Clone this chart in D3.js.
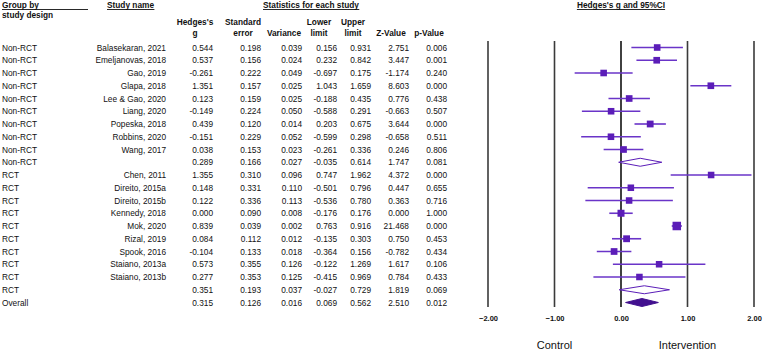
<!DOCTYPE html>
<html>
<head>
<meta charset="utf-8">
<script src="https://cdn.jsdelivr.net/npm/d3@7"></script>
<style>
  body { margin: 0; background: #fff; }
  svg { display: block; font-family: "Liberation Sans", Arial, sans-serif; }
</style>
</head>
<body>
<div id="chart"></div>
<script>
// rows of the forest plot (summary rows have kind "sub" or "all")
const groups = ["Non-RCT","Non-RCT","Non-RCT","Non-RCT","Non-RCT","Non-RCT","Non-RCT","Non-RCT","Non-RCT","Non-RCT",
  "RCT","RCT","RCT","RCT","RCT","RCT","RCT","RCT","RCT","RCT","Overall"];
const studies = ["Balasekaran, 2021","Emeljanovas, 2018","Gao, 2019","Glapa, 2018","Lee & Gao, 2020","Liang, 2020",
  "Popeska, 2018","Robbins, 2020","Wang, 2017","",
  "Chen, 2011","Direito, 2015a","Direito, 2015b","Kennedy, 2018","Mok, 2020","Rizal, 2019","Spook, 2016",
  "Staiano, 2013a","Staiano, 2013b","",""];
const kinds = ["study","study","study","study","study","study","study","study","study","sub",
  "study","study","study","study","study","study","study","study","study","sub","all"];
const hedgesG = [0.544,0.537,-0.261,1.351,0.123,-0.149,0.439,-0.151,0.038,0.289,
  1.355,0.148,0.122,0.000,0.839,0.084,-0.104,0.573,0.277,0.351,0.315];
const stdErr = [0.198,0.156,0.222,0.157,0.159,0.224,0.120,0.229,0.153,0.166,
  0.310,0.331,0.336,0.090,0.039,0.112,0.133,0.355,0.353,0.193,0.126];
const variance = [0.039,0.024,0.049,0.025,0.025,0.050,0.014,0.052,0.023,0.027,
  0.096,0.110,0.113,0.008,0.002,0.012,0.018,0.126,0.125,0.037,0.016];
const lower = [0.156,0.232,-0.697,1.043,-0.188,-0.588,0.203,-0.599,-0.261,-0.035,
  0.747,-0.501,-0.536,-0.176,0.763,-0.135,-0.364,-0.122,-0.415,-0.027,0.069];
const upper = [0.931,0.842,0.175,1.659,0.435,0.291,0.675,0.298,0.336,0.614,
  1.962,0.796,0.780,0.176,0.916,0.303,0.156,1.269,0.969,0.729,0.562];
const zValue = [2.751,3.447,-1.174,8.603,0.776,-0.663,3.644,-0.658,0.246,1.747,
  4.372,0.447,0.363,0.000,21.468,0.750,-0.782,1.617,0.784,1.819,2.510];
const pValue = [0.006,0.001,0.240,0.000,0.438,0.507,0.000,0.511,0.806,0.081,
  0.000,0.655,0.716,1.000,0.000,0.453,0.434,0.106,0.433,0.069,0.012];
const ticks = [-2, -1, 0, 1, 2];

const width = 764, height = 350;
const fontSize = 8.3;
const markColor = "#5b1db8", lineColor = "#6a34c8", overallColor = "#42108f";

const svg = d3.select("#chart").append("svg")
  .attr("width", width).attr("height", height)
  .attr("viewBox", [0, 0, width, height]);

const I = d3.range(groups.length);
const y = d3.scalePoint(I, [47.5, 302.5]);
const x = d3.scaleLinear([-2, 2], [488, 754]);
const size = d3.scaleLinear([0, 500], [6.5, 8.5]).clamp(true);

// headers
function header(txt, xp, yp, anchor, underline) {
  const t = svg.append("text").attr("x", xp).attr("y", yp)
    .attr("font-size", fontSize).attr("font-weight", 700)
    .attr("text-anchor", anchor).attr("fill", "#111").text(txt);
  if (underline) {
    const b = t.node().getBBox();
    svg.append("line").attr("x1", underline[0] ?? b.x).attr("x2", underline[1] ?? b.x + b.width)
      .attr("y1", yp + 1.5).attr("y2", yp + 1.5).attr("stroke", "#111").attr("stroke-width", 0.9);
  }
}
header("Group by", 2, 8, "start", [2, 88]);
header("study design", 2, 18, "start");
header("Study name", 107, 8, "start", []);
header("Statistics for each study", 263, 8, "start", []);
header("Hedges's g and 95%CI", 621, 8, "middle", []);

// numeric columns: right edge of the numbers, two header lines
const cols = [
  {x: 213, h: ["Hedges's", "g"], v: hedgesG},
  {x: 261, h: ["Standard", "error"], v: stdErr},
  {x: 302, h: ["", "Variance"], v: variance},
  {x: 337, h: ["Lower", "limit"], v: lower},
  {x: 371, h: ["Upper", "limit"], v: upper},
  {x: 409, h: ["", "Z-Value"], v: zValue},
  {x: 447, h: ["", "p-Value"], v: pValue}
];
cols.forEach(c => {
  c.h.forEach((line, k) => {
    if (line) header(line, c.x - 18, 25 + k * 11, "middle");
  });
});

// table body
const rows = svg.append("g").attr("font-size", fontSize).attr("fill", "#111");
rows.selectAll(".grp").data(I).join("text").attr("class", "grp")
  .attr("x", 2).attr("y", i => y(i) + 3).text(i => groups[i]);
rows.selectAll(".name").data(I).join("text").attr("class", "name")
  .attr("x", 166).attr("y", i => y(i) + 3).attr("text-anchor", "end").text(i => studies[i]);
cols.forEach((c, k) => {
  rows.selectAll(".c" + k).data(I).join("text").attr("class", "c" + k)
    .attr("x", c.x).attr("y", i => y(i) + 3).attr("text-anchor", "end").text(i => c.v[i].toFixed(3));
});

// forest plot
const plot = svg.append("g");
plot.selectAll(".vline").data(ticks).join("line").attr("class", "vline")
  .attr("x1", d => x(d)).attr("x2", d => x(d)).attr("y1", 41).attr("y2", 307)
  .attr("stroke", d => d === 0 ? "#111" : "#3a3a3a").attr("stroke-width", 1.6);

const axis = d3.axisBottom(x).tickValues(ticks).tickSize(0).tickFormat(d3.format(".2f"));
plot.append("g").attr("transform", "translate(0,313)").call(axis)
  .call(g => g.select(".domain").remove())
  .call(g => g.selectAll(".tick text").attr("font-size", 7.5).attr("font-weight", 700)
    .attr("font-family", "Liberation Sans, Arial, sans-serif").attr("fill", "#111"));

const studyRows = I.filter(i => kinds[i] === "study");
plot.selectAll(".ci").data(studyRows).join("line").attr("class", "ci")
  .attr("x1", i => x(Math.max(lower[i], -2))).attr("x2", i => x(Math.min(upper[i], 2)))
  .attr("y1", y).attr("y2", y).attr("stroke", lineColor).attr("stroke-width", 1.6);
plot.selectAll(".box").data(studyRows).join("rect").attr("class", "box")
  .attr("x", i => x(hedgesG[i]) - size(1 / variance[i]) / 2)
  .attr("y", i => y(i) - size(1 / variance[i]) / 2)
  .attr("width", i => size(1 / variance[i])).attr("height", i => size(1 / variance[i]))
  .attr("fill", markColor);

const sumRows = I.filter(i => kinds[i] !== "study");
plot.selectAll(".diamond").data(sumRows).join("path").attr("class", "diamond")
  .attr("d", i => {
    const yy = y(i);
    return `M${x(lower[i])},${yy}L${x(hedgesG[i])},${yy - 4}L${x(upper[i])},${yy}L${x(hedgesG[i])},${yy + 4}Z`;
  })
  .attr("fill", i => kinds[i] === "all" ? overallColor : "#fff")
  .attr("stroke", i => kinds[i] === "all" ? overallColor : markColor)
  .attr("stroke-width", 1);

svg.append("text").attr("x", x(-1)).attr("y", 349).attr("text-anchor", "middle")
  .attr("font-size", 11).attr("fill", "#111").text("Control");
svg.append("text").attr("x", x(1)).attr("y", 349).attr("text-anchor", "middle")
  .attr("font-size", 11).attr("fill", "#111").text("Intervention");
</script>
</body>
</html>
